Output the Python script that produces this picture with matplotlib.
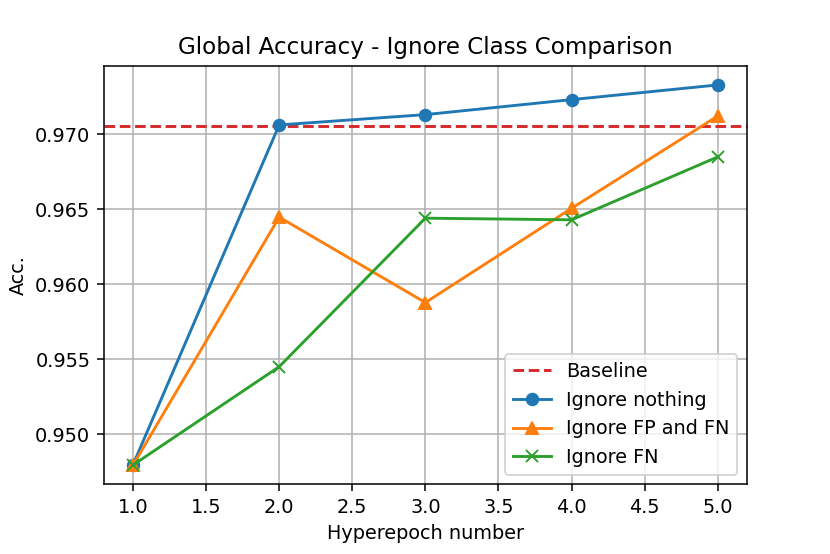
import matplotlib
matplotlib.use('Agg')
import matplotlib.pyplot as plt

hyperepoch = [1, 2, 3, 4, 5]
baseline = 0.97057
ignore_nothing = [0.94795, 0.97062, 0.97131, 0.97231, 0.97329]
ignore_fp_fn = [0.94792, 0.96447, 0.95877, 0.96506, 0.97122]
ignore_fn = [0.94793, 0.95449, 0.96440, 0.96429, 0.96849]

plt.figure(figsize=(830/138.33, 554/138.33), dpi=138.33)
plt.axhline(baseline, color='tab:red', linestyle='--', label='Baseline')
plt.plot(hyperepoch, ignore_nothing, marker='o', label='Ignore nothing')
plt.plot(hyperepoch, ignore_fp_fn, marker='^', label='Ignore FP and FN')
plt.plot(hyperepoch, ignore_fn, marker='x', label='Ignore FN')
plt.grid(True)
plt.legend(loc='lower right')
plt.title('Global Accuracy - Ignore Class Comparison')
plt.xlabel('Hyperepoch number')
plt.ylabel('Acc.')
plt.subplots_adjust(left=0.125, right=0.9, bottom=0.126, top=0.881)
plt.savefig('out.png')
plt.close()
